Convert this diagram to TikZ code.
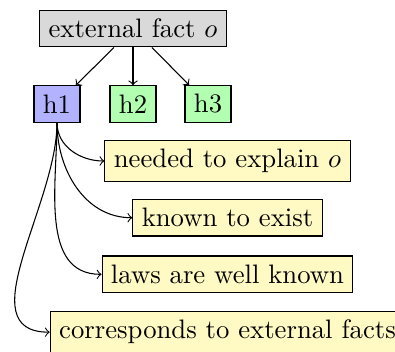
\documentclass[tikz,border=0pt]{standalone}
\begin{document}
\begin{tikzpicture}[x=0.3745pt,y=-0.3745pt,
  box/.style={draw, inner sep=3.33pt, line width=0.4pt},
  extbox/.style={box, fill=gray!30},
  hbox/.style={box, fill=blue!30},
  gbox/.style={box, fill=green!30},
  ybox/.style={box, fill={rgb,255:red,255;green,249;blue,196}},
  conn/.style={->, line width=0.4pt}]
\useasboundingbox (0,0) rectangle (395,351);
\node[extbox] (ext) at (133,28.5) {external fact $o$};
\node[hbox] (h1) at (57,104) {h1};
\node[gbox] (h2) at (133,104) {h2};
\node[gbox] (h3) at (208,104) {h3};
\node[ybox] (n1) at (227.5,161) {needed to explain $o$};
\node[ybox] (n2) at (227.5,217.7) {known to exist};
\node[ybox] (n3) at (227.5,274.3) {laws are well known};
\node[ybox, anchor=north] (n4) at (227.5,310.7) {corresponds to external facts};
\draw[conn] (ext) -- (h1);
\draw[conn] (ext) -- (h2);
\draw[conn] (ext) -- (h3);
\draw[conn] (h1.south) to[out=-90,in=180] (n1.west);
\draw[conn] (h1.south) to[out=-90,in=180] (n2.west);
\draw[conn] (h1.south) to[out=-90,in=180] (n3.west);
\draw[conn] (h1.south) to[out=-90,in=180] (n4.west);
\end{tikzpicture}
\end{document}
